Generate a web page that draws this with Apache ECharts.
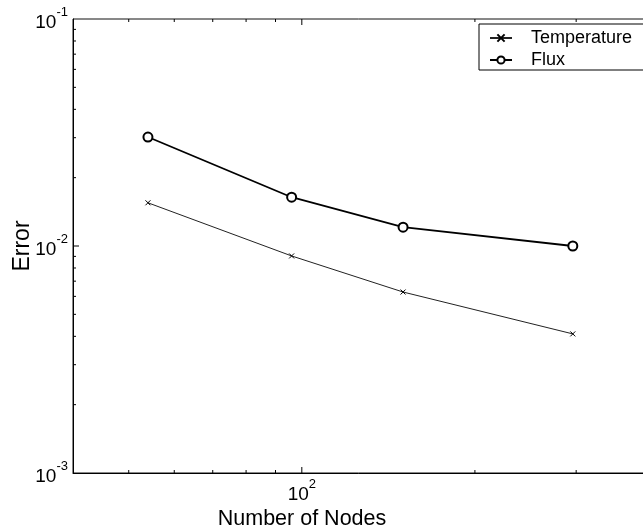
<!DOCTYPE html>
<html>
<head>
<meta charset="utf-8">
<script src="https://cdn.jsdelivr.net/npm/echarts@6/dist/echarts.min.js"></script>
<style>
  html, body { margin: 0; padding: 0; background: #fff; }
  #chart { width: 643px; height: 529px; }
</style>
</head>
<body>
<div id="chart"></div>
<script>
// Convergence of the nodal error with mesh size (log-log)
const nodes = [54, 96, 150, 296];
const temperatureError = [0.0155, 0.00904, 0.00627, 0.0041];
const fluxError = [0.0302, 0.0164, 0.0121, 0.0100];

// Axis ranges and tick positions
const xRange = [40, 400];
const yRange = [0.001, 0.1];
const xMinorTicks = [50, 60, 70, 80, 90, 200, 300];
const xMajorTicks = [100];
const yMinorTicks = [0.002, 0.003, 0.004, 0.005, 0.006, 0.007, 0.008, 0.009,
                     0.02, 0.03, 0.04, 0.05, 0.06, 0.07, 0.08, 0.09];
const yMajorTicks = [0.01];

const FONT = '"Liberation Sans", Arial, Helvetica, sans-serif';

function powLabel(v) {
  const e = Math.round(Math.log10(v));
  if (Math.abs(Math.pow(10, e) - v) > 1e-9 * Math.abs(v)) return '';
  return '{b|10}{s|' + e + '}';
}
const richPow = {
  b: { fontSize: 19, fontFamily: FONT, color: '#000', lineHeight: 26, verticalAlign: 'bottom' },
  s: { fontSize: 13, fontFamily: FONT, color: '#000', lineHeight: 10, verticalAlign: 'top' }
};

// Inward ticks on the bottom/top (x) and left (y) sides of the frame
function xTickItem(len) {
  return function (params, api) {
    const v = api.value(0);
    const b = api.coord([v, yRange[0]]);
    const t = api.coord([v, yRange[1]]);
    const st = { stroke: '#000', lineWidth: 1 };
    return { type: 'group', children: [
      { type: 'line', shape: { x1: b[0], y1: b[1], x2: b[0], y2: b[1] - len }, style: st },
      { type: 'line', shape: { x1: t[0], y1: t[1], x2: t[0], y2: t[1] + len }, style: st }
    ]};
  };
}
function yTickItem(len) {
  return function (params, api) {
    const v = api.value(1);
    const l = api.coord([xRange[0], v]);
    const st = { stroke: '#000', lineWidth: 1 };
    return { type: 'line', shape: { x1: l[0], y1: l[1], x2: l[0] + len, y2: l[1] }, style: st };
  };
}

const crossSymbol = 'path://M0,0L10,10M10,0L0,10';

const chart = echarts.init(document.getElementById('chart'), null, { renderer: 'canvas' });
chart.setOption({
  animation: false,
  backgroundColor: '#fff',
  grid: {
    left: 73, top: 19, width: 575, height: 454,
    containLabel: false, outerBoundsMode: 'none',
    show: true, borderColor: '#111', borderWidth: 1, backgroundColor: 'transparent'
  },
  xAxis: {
    type: 'log', logBase: 10, min: xRange[0], max: xRange[1],
    axisLine: { show: true, onZero: false, lineStyle: { color: '#000', width: 1 } },
    axisTick: { show: false },
    splitLine: { show: false },
    axisLabel: { formatter: powLabel, rich: richPow, margin: 5, showMinLabel: false, showMaxLabel: false }
  },
  yAxis: {
    type: 'log', logBase: 10, min: yRange[0], max: yRange[1],
    name: 'Error', nameLocation: 'middle', nameGap: 39, nameMoveOverlap: false,
    nameTextStyle: { fontSize: 23, fontFamily: FONT, color: '#000' },
    axisLine: { show: true, lineStyle: { color: '#000', width: 1 } },
    axisTick: { show: false },
    splitLine: { show: false },
    axisLabel: { formatter: powLabel, rich: richPow, margin: 5 }
  },
  graphic: [{
    type: 'text', x: 302, y: 519,
    style: { text: 'Number of Nodes', fontSize: 21.5, fontFamily: FONT, fill: '#000',
             textAlign: 'center', textVerticalAlign: 'middle' }
  }],
  legend: {
    data: ['Temperature', 'Flux'],
    orient: 'vertical', left: 479, top: 24,
    backgroundColor: '#fff', borderColor: '#000', borderWidth: 1, borderRadius: 0,
    padding: [5, 60, 1, 10], itemWidth: 22, itemHeight: 9, itemGap: 4,
    textStyle: { fontSize: 18, fontFamily: FONT, color: '#000', padding: [0, 0, 0, 14] }
  },
  series: [
    {
      name: 'Temperature', type: 'line',
      data: nodes.map((n, i) => [n, temperatureError[i]]),
      symbol: crossSymbol, symbolSize: 5, showAllSymbol: true,
      lineStyle: { color: '#222', width: 1 },
      itemStyle: { color: '#000', borderColor: '#000', borderWidth: 1 },
      z: 5
    },
    {
      name: 'Flux', type: 'line',
      data: nodes.map((n, i) => [n, fluxError[i]]),
      symbol: 'emptyCircle', symbolSize: 9, showAllSymbol: true,
      lineStyle: { color: '#000', width: 1.8 },
      itemStyle: { color: '#000', borderColor: '#000', borderWidth: 1.5 },
      z: 5
    },
    { type: 'custom', renderItem: xTickItem(3), data: xMinorTicks.map(v => [v, yRange[0]]), silent: true, z: 3 },
    { type: 'custom', renderItem: xTickItem(6), data: xMajorTicks.map(v => [v, yRange[0]]), silent: true, z: 3 },
    { type: 'custom', renderItem: yTickItem(3), data: yMinorTicks.map(v => [xRange[0], v]), silent: true, z: 3 },
    { type: 'custom', renderItem: yTickItem(6), data: yMajorTicks.map(v => [xRange[0], v]), silent: true, z: 3 }
  ]
});
</script>
</body>
</html>
